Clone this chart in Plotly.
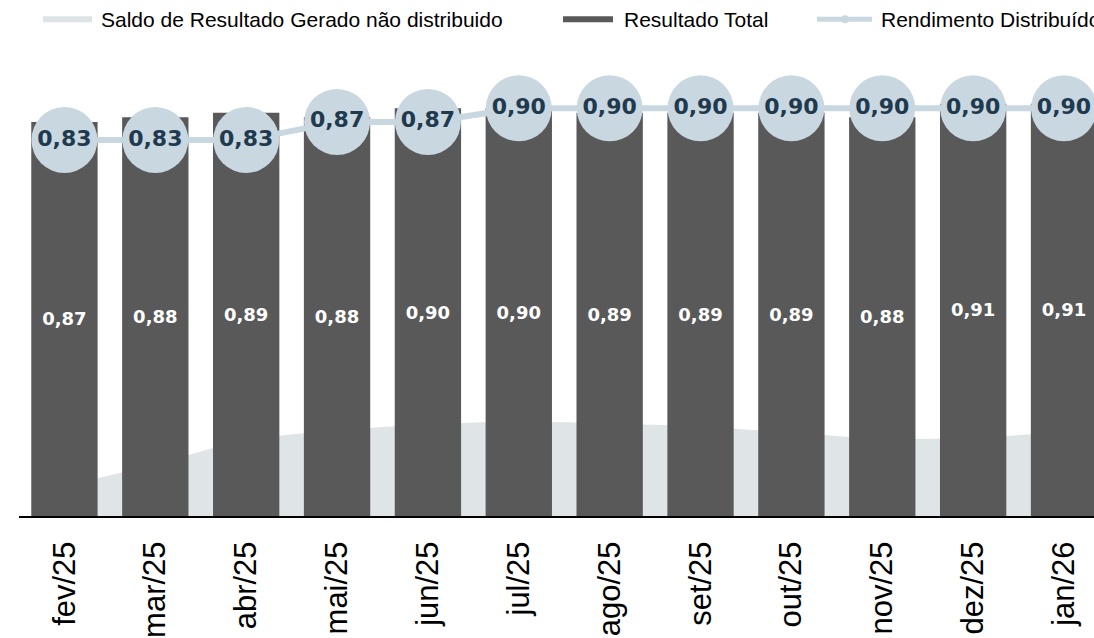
import plotly.graph_objects as go

categories = ["fev/25", "mar/25", "abr/25", "mai/25", "jun/25", "jul/25",
              "ago/25", "set/25", "out/25", "nov/25", "dez/25", "jan/26"]
resultado_total = [0.87, 0.88, 0.89, 0.88, 0.90, 0.90, 0.89, 0.89, 0.89, 0.88, 0.91, 0.91]
rendimento_distribuido = [0.83, 0.83, 0.83, 0.87, 0.87, 0.90, 0.90, 0.90, 0.90, 0.90, 0.90, 0.90]
saldo_nao_distribuido = [0.066, 0.114, 0.167, 0.189, 0.202, 0.208, 0.204, 0.197, 0.184, 0.171, 0.173, 0.186]

legend_names = ["Saldo de Resultado Gerado não distribuido", "Resultado Total", "Rendimento Distribuído"]

C_AREA = "#dfe4e7"
C_BAR = "#595959"
C_LINE = "#c9d7e0"
C_TXT = "#1f3a4e"

def fmt(v):
    return f"{v:.2f}".replace(".", ",")

x = list(range(len(categories)))

fig = go.Figure()

fig.add_trace(go.Scatter(
    x=x, y=saldo_nao_distribuido, mode="lines", line=dict(shape="spline", color=C_AREA, width=0),
    fill="tozeroy", fillcolor=C_AREA, name=legend_names[0], showlegend=False,
    xaxis="x", yaxis="y", hoverinfo="skip"))

fig.add_trace(go.Bar(
    x=x, y=resultado_total, marker=dict(color=C_BAR, line=dict(width=0)), width=0.73,
    text=[fmt(v) for v in resultado_total], textposition="inside", insidetextanchor="middle",
    textangle=0,
    textfont=dict(family="DejaVu Sans", size=18, color="white", weight="bold"),
    name=legend_names[1], showlegend=False, xaxis="x", yaxis="y2"))

fig.add_trace(go.Scatter(
    x=x, y=rendimento_distribuido, mode="lines+markers+text",
    line=dict(color=C_LINE, width=6), marker=dict(size=66, color=C_LINE, line=dict(width=0)),
    text=[fmt(v) for v in rendimento_distribuido], textposition="middle center",
    textfont=dict(family="DejaVu Sans", size=22, color=C_TXT, weight="bold"),
    name=legend_names[2], showlegend=False, xaxis="x", yaxis="y2", cliponaxis=False))

L, R_, T, B = 19, 0, 63, 119
PW = 1094 - L - R_
PH = 638 - T - B

def px(xp):
    return (xp - L) / PW

def py(yp):
    return (638 - B - yp) / PH

shapes = [
    dict(type="rect", xref="paper", yref="paper", x0=px(43), x1=px(92), y0=py(22), y1=py(16),
         fillcolor="#dde3e6", line=dict(width=0)),
    dict(type="rect", xref="paper", yref="paper", x0=px(563), x1=px(613), y0=py(22), y1=py(16),
         fillcolor=C_BAR, line=dict(width=0)),
    dict(type="line", xref="paper", yref="paper", x0=px(817), x1=px(872), y0=py(19), y1=py(19),
         line=dict(color=C_LINE, width=5)),
    dict(type="circle", xref="paper", yref="paper", x0=px(841), x1=px(849), y0=py(23), y1=py(15),
         fillcolor=C_LINE, line=dict(width=0)),
]
annotations = [
    dict(xref="paper", yref="paper", x=px(x0), y=py(19), text=t, showarrow=False,
         xanchor="left", yanchor="middle",
         font=dict(family="Liberation Sans", size=21, color="black"))
    for x0, t in [(99, legend_names[0]), (622, legend_names[1]), (879, legend_names[2])]
]

fig.update_layout(
    width=1094, height=638,
    margin=dict(l=L, r=R_, t=T, b=B),
    paper_bgcolor="white", plot_bgcolor="white",
    showlegend=False,
    bargap=0.27,
    xaxis=dict(range=[-0.5, 11.33], tickmode="array", tickvals=x, ticktext=categories,
               tickangle=-90, tickfont=dict(family="Liberation Sans", size=31, color="black"),
               showgrid=False, zeroline=False, showline=True, linecolor="black", linewidth=2,
               ticks="", ticklabelstandoff=11),
    yaxis=dict(range=[0, 1], visible=False, showgrid=False, zeroline=False),
    yaxis2=dict(range=[0, 1], visible=False, overlaying="y", showgrid=False, zeroline=False),
    shapes=shapes, annotations=annotations,
)

fig.write_html("out.html", config={"displayModeBar": False},
               post_script="document.body.style.margin='0';document.body.style.overflow='hidden';")
